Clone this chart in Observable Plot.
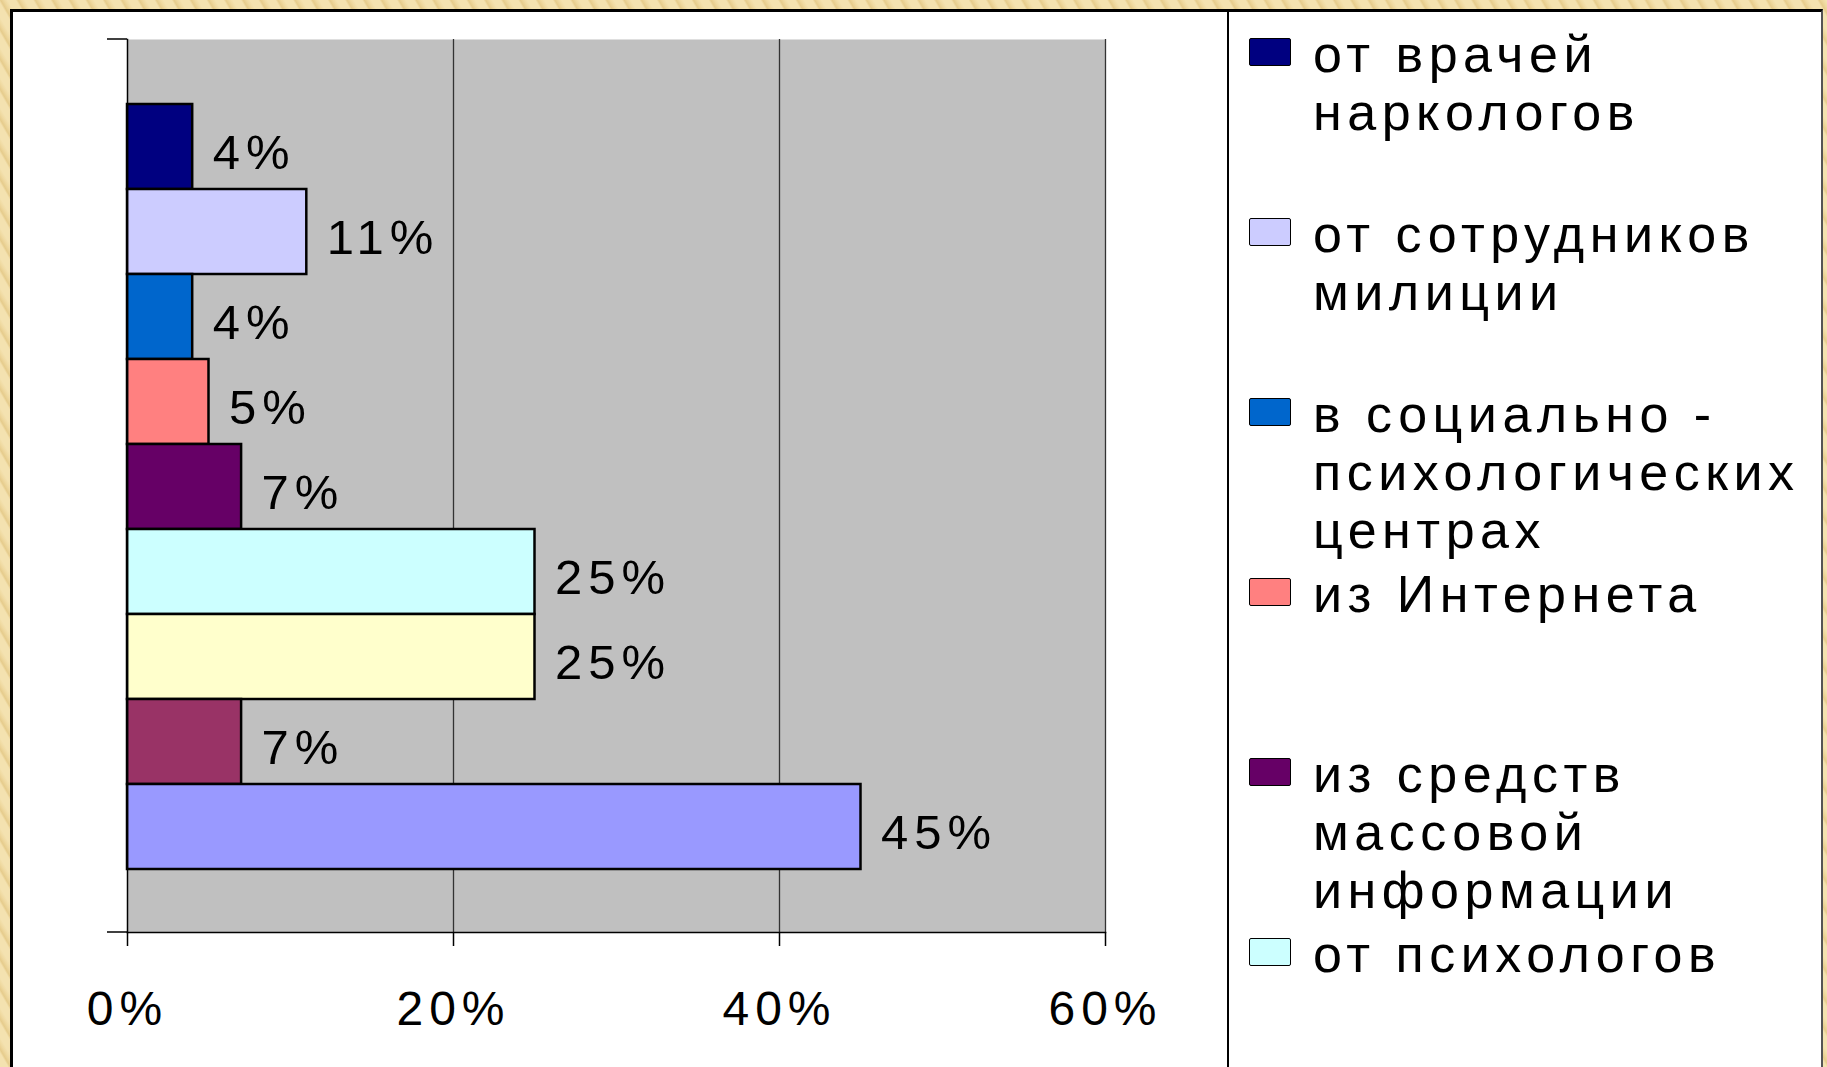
<!DOCTYPE html>
<html>
<head>
<meta charset="utf-8">
<script src="https://cdn.jsdelivr.net/npm/d3@7"></script>
<script src="https://cdn.jsdelivr.net/npm/@observablehq/plot@0.6"></script>
<style>
  html, body { margin: 0; padding: 0; }
  body {
    width: 1827px; height: 1067px; overflow: hidden; position: relative;
    background: repeating-linear-gradient(60deg, #f4e2b0 0px, #f4e2b0 7px, #e6cc8c 9px, #efd9a0 12px, #f4e2b0 15px);
    font-family: "Liberation Sans", Arial, sans-serif;
  }
  #panel {
    position: absolute; left: 10px; top: 9px; width: 1808px; height: 1070px;
    background: #fff; border-left: 3px solid #000; border-top: 3px solid #000; border-right: 2px solid #555;
  }
  #chart { position: absolute; left: 0; top: 0; }
  #legend {
    position: absolute; left: 1227px; top: 12px; width: 592px; height: 1060px;
    border-left: 2px solid #000; overflow: hidden;
  }
  .entry { position: absolute; left: 0; }
  .sw { position: absolute; left: 20px; width: 40px; height: 26px; border: 1.5px solid #000; border-radius: 2px; }
  .lbl { position: absolute; left: 84px; font-size: 52px; line-height: 58px; letter-spacing: 5.5px; white-space: pre; color: #000; }
</style>
</head>
<body>
<div id="panel"></div>
<div id="chart"></div>
<div id="legend"></div>
<script>
// Series (one category, nine series)
const seriesNames = [
  "от врачей\nнаркологов",
  "от сотрудников\nмилиции",
  "в социально -\nпсихологических\nцентрах",
  "из Интернета",
  "из средств\nмассовой\nинформации",
  "от психологов",
  "Ряд 7",
  "Ряд 8",
  "Ряд 9"
];
const seriesValues = [4, 11, 4, 5, 7, 25, 25, 7, 45];
const seriesColors = ["#000080", "#CCCCFF", "#0066CC", "#FF8080", "#660066", "#CCFFFF", "#FFFFCC", "#993366", "#9999FF"];
const xTicks = [0, 20, 40, 60];

const data = seriesNames.map((name, i) => ({name, value: seriesValues[i]}));

const W = 1227, H = 1067;
const chart = Plot.plot({
  width: W,
  height: H,
  marginLeft: 127,
  marginRight: W - 1105,
  marginTop: 39,
  marginBottom: H - 932,
  style: {background: "transparent", fontFamily: "'Liberation Sans', Arial, sans-serif", color: "#000"},
  x: {domain: [0, 60]},
  y: {domain: seriesNames, padding: 0, round: false, insetTop: 65, insetBottom: 63, axis: null},
  color: {domain: seriesNames, range: seriesColors},
  marks: [
    Plot.frame({fill: "#c0c0c0", stroke: null}),
    Plot.gridX(xTicks.slice(1), {stroke: "#333", strokeOpacity: 1, strokeWidth: 1.3}),
    Plot.barX(data, {x: "value", y: "name", fill: "name", stroke: "#000", strokeWidth: 2.5}),
    Plot.text(data, {
      x: "value", y: "name", text: d => d.value + "%", textAnchor: "start",
      dx: 20, dy: 6, fontSize: 49, fill: "#000"
    }),
    Plot.frame({anchor: "left", stroke: "#000", strokeWidth: 1.5}),
    Plot.frame({anchor: "bottom", stroke: "#000", strokeWidth: 1.5}),
    (index, scales, values, dims) => {
      const g = d3.create("svg:g").attr("stroke", "#000").attr("stroke-width", 1.5);
      const x0 = dims.marginLeft;
      for (const y of [dims.marginTop, dims.height - dims.marginBottom]) {
        g.append("line").attr("x1", x0 - 20).attr("x2", x0).attr("y1", y).attr("y2", y);
      }
      return g.node();
    },
    Plot.axisX({
      ticks: xTicks, tickFormat: d => d + "%", tickSize: 14, tickPadding: 44,
      fontSize: 48, stroke: "#000", strokeWidth: 1.5, fill: "#000", label: null
    })
  ]
});
chart.querySelectorAll("text").forEach(t => { t.style.letterSpacing = "6px"; });
document.getElementById("chart").appendChild(chart);

// Legend: only the entries that fit in the panel are visible (as in the reference)
const legend = document.getElementById("legend");
const entryStep = 180, legendHeight = 1060;
seriesNames.forEach((name, i) => {
  if (entryStep * i + 40 > legendHeight) return;
  const e = document.createElement("div");
  e.className = "entry";
  e.style.top = (entryStep * i) + "px";
  const sw = document.createElement("div");
  sw.className = "sw";
  sw.style.background = seriesColors[i];
  sw.style.top = "26px";
  const lb = document.createElement("div");
  lb.className = "lbl";
  lb.style.top = "13px";
  lb.textContent = name;
  e.appendChild(sw);
  e.appendChild(lb);
  legend.appendChild(e);
});
</script>
</body>
</html>
